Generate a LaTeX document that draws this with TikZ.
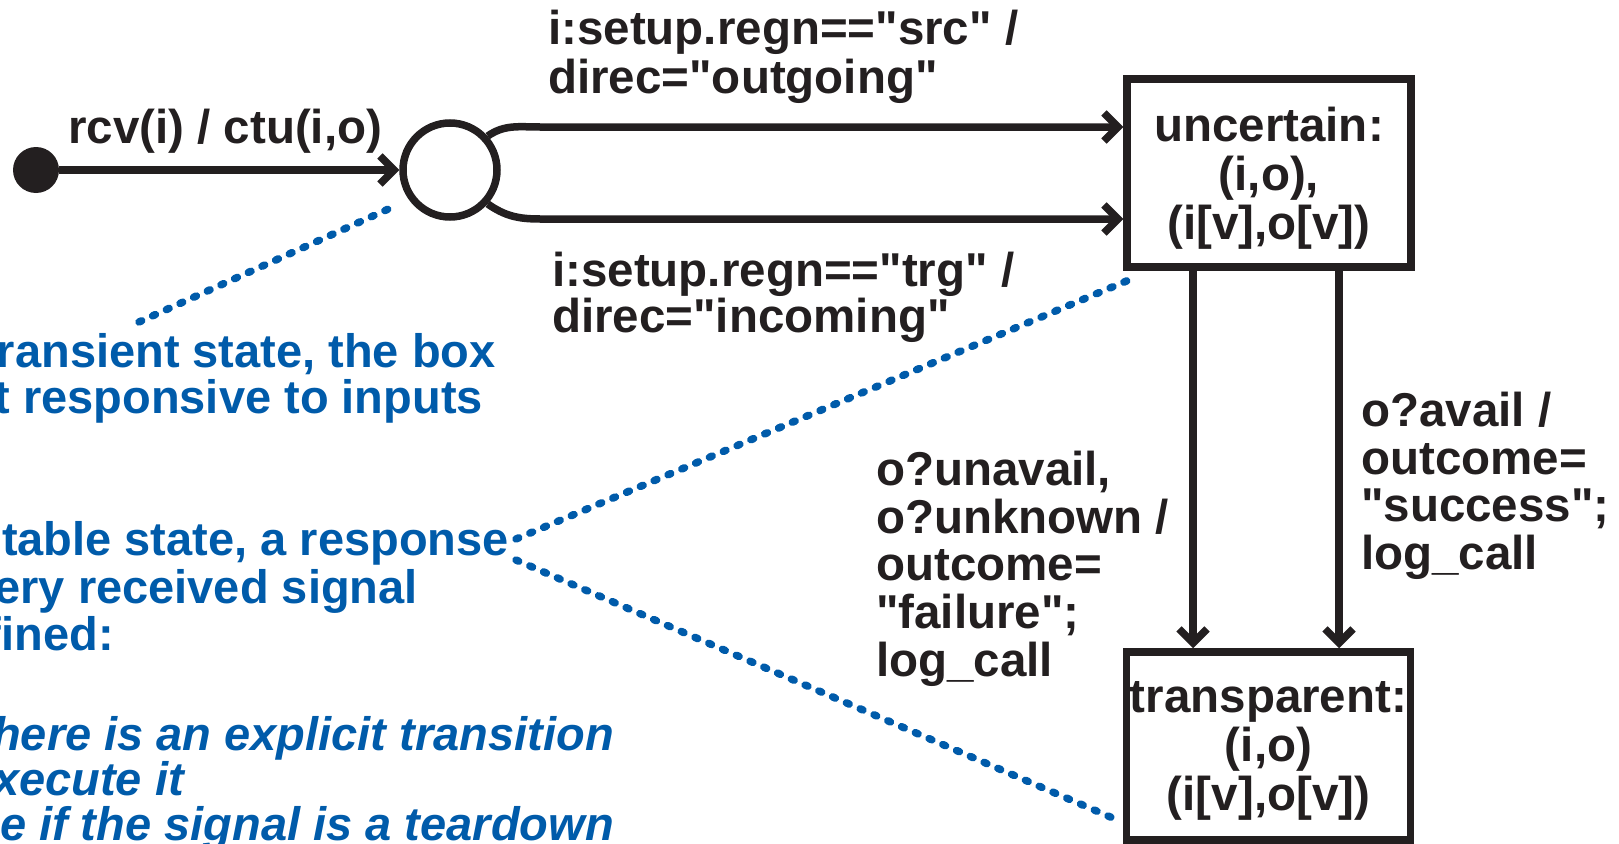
\documentclass[tikz,border=0pt]{standalone}
\usepackage{fontspec}
\setmainfont{Liberation Sans}[Ligatures=TeXOff]
\usetikzlibrary{arrows.meta}
\definecolor{inkblack}{RGB}{35,31,32}
\definecolor{noteblue}{RGB}{0,91,170}
\newcommand\blkfont{\fontsize{47.5}{49}\selectfont\bfseries}
\newcommand\blufont{\fontsize{47}{46}\selectfont\bfseries}
\newcommand\bluitfont{\fontsize{47}{46}\selectfont\bfseries\itshape}
\begin{document}
\begin{tikzpicture}[x=1pt,y=-1pt,
  ink/.style={draw=inkblack, line width=7.5pt},
  arr/.style={ink, -{Straight Barb[length=14pt,width=28pt]}},
  statebox/.style={ink, rectangle, minimum width=284pt, minimum height=188pt,
    inner sep=0pt, align=center, font=\blkfont, text=inkblack, text depth=0pt},
  lbl/.style={font=\blkfont, text=inkblack, inner sep=0pt, anchor=base west},
  note/.style={font=\blufont, text=noteblue, inner sep=0pt, anchor=base east},
  noteit/.style={note, font=\bluitfont},
  dots/.style={draw=noteblue, line width=7.5pt, line cap=round,
    dash pattern=on 3pt off 12pt}]
\useasboundingbox (0,0) rectangle (1619,843);
\clip (0,0) rectangle (1619,843);

% states
\node[fill=inkblack, circle, minimum size=46pt, inner sep=0pt] (init) at (36,170) {};
\node[ink, circle, minimum size=94pt, inner sep=0pt] (tr) at (450,170) {};
\node[statebox] (unc) at (1269,173) {uncertain:\\(i,o),\\(i[v],o[v])};
\node[statebox] (trn) at (1268.5,746) {transparent:\\(i,o)\\(i[v],o[v])};

% routing points
\coordinate (cu) at (540,127);
\coordinate (cl) at (540,219);
\coordinate (va) at (1193,0);
\coordinate (vb) at (1339,0);

% transitions
\draw[arr] (init.east) -- (tr.west);
\draw[arr] (tr.42) to[out=35,in=180] (cu) -- (unc.west |- cu);
\draw[arr] (tr.-42) to[out=-35,in=180] (cl) -- (unc.west |- cl);
\draw[arr] (unc.south -| va) -- (trn.north -| va);
\draw[arr] (unc.south -| vb) -- (trn.north -| vb);

% transition labels
\node[lbl] (l0) at (68,143) {rcv(i) / ctu(i,o)};
\node[lbl] (l1a) at (548,45) {i:setup.regn=="src" /};
\node[lbl] (l1b) at (548,93) {direc="outgoing"};
\node[lbl] (l2a) at (552,286) {i:setup.regn=="trg" /};
\node[lbl] (l2b) at (552,332) {direc="incoming"};
\node[lbl] (l3a) at (876,485) {o?unavail,};
\node[lbl] (l3b) at (876,533) {o?unknown /};
\node[lbl] (l3c) at (876,580) {outcome=};
\node[lbl] (l3d) at (876,628) {"failure";};
\node[lbl] (l3e) at (876,676) {log\_call};
\node[lbl] (l4a) at (1361,426) {o?avail /};
\node[lbl] (l4b) at (1361,474) {outcome=};
\node[lbl] (l4c) at (1361,521) {"success";};
\node[lbl] (l4d) at (1361,569) {log\_call};

% notes
\node[note] (n1a) at (496,367) {ransient state, the box};
\node[note] (n1b) at (483,413) {t responsive to inputs};
\node[note] (n2a) at (509,555) {table state, a response};
\node[note] (n2b) at (418,603) {ery received signal};
\node[note] (n2c) at (114,650) {fined:};
\node[noteit] (n2d) at (614,750) {here is an explicit transition};
\node[noteit] (n2e) at (184,795) {xecute it};
\node[noteit] (n2f) at (614,840) {e if the signal is a teardown};

% note pointers
\coordinate (p1a) at (139,322);
\coordinate (p1b) at (395,206);
\coordinate (p2a) at (516,539);
\coordinate (p2b) at (1136,277);
\coordinate (p3a) at (516,560);
\coordinate (p3b) at (1115,819);
\draw[dots] (p1a) -- (p1b);
\draw[dots] (p2a) -- (p2b);
\draw[dots] (p3a) -- (p3b);
\end{tikzpicture}
\end{document}
